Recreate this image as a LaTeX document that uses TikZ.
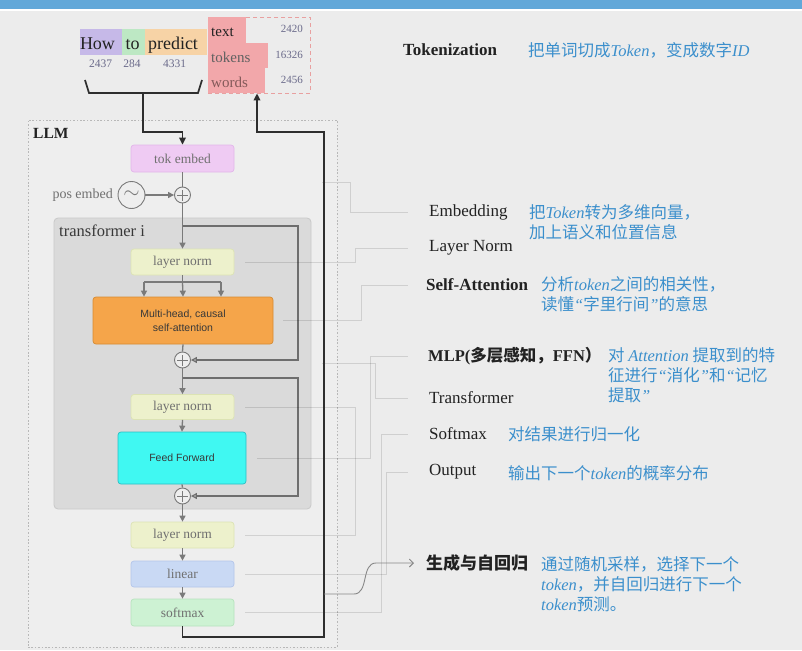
\documentclass[tikz,border=0pt]{standalone}
\usepackage{fontspec}
\usepackage{graphicx}
\setmainfont{Liberation Serif}
\newfontfamily\cjk{Noto Sans CJK SC}
\newfontfamily\sansf{Liberation Sans}
\usetikzlibrary{arrows.meta,calc}
\definecolor{bg}{HTML}{ECECEC}
\definecolor{llmbg}{HTML}{EEEEEE}
\definecolor{topblue}{HTML}{62A8D9}
\definecolor{descblue}{HTML}{3B8FCC}
\definecolor{txtdark}{HTML}{222222}
\definecolor{nodegray}{HTML}{707070}
\definecolor{pgray}{HTML}{7A7A7A}
\definecolor{resgray}{HTML}{6E6E6E}
\definecolor{blackline}{HTML}{2E2E2E}
\definecolor{numc}{HTML}{6A6A8A}
\definecolor{howc}{HTML}{C6B9E8}
\definecolor{toc}{HTML}{BDE8C4}
\definecolor{predc}{HTML}{F7D3A6}
\definecolor{redc}{HTML}{F2A7AA}
\definecolor{reddash}{HTML}{E8A0A0}
\definecolor{tokfill}{HTML}{EFCBF3}
\definecolor{tokdraw}{HTML}{E2B6EA}
\definecolor{lnfill}{HTML}{EDF1CC}
\definecolor{lndraw}{HTML}{DCE3B4}
\definecolor{mhafill}{HTML}{F5A54A}
\definecolor{mhadraw}{HTML}{D68B32}
\definecolor{fffill}{HTML}{40F8F2}
\definecolor{ffdraw}{HTML}{2BBFC4}
\definecolor{linfill}{HTML}{C9D9F4}
\definecolor{lindraw}{HTML}{B3C6EA}
\definecolor{smfill}{HTML}{CDF2D3}
\definecolor{smdraw}{HTML}{B6E2BD}
\definecolor{tboxfill}{HTML}{DADADA}
\definecolor{tboxdraw}{HTML}{C9C9C9}
\newcommand\latit[1]{{\rmfamily\itshape #1}}
\newcommand\myLq{{\rmfamily\itshape “}}
\newcommand\myRq{{\rmfamily\itshape ”}}
\begin{document}
\begin{tikzpicture}[x=1pt,y=-1pt,
  blk/.style={rectangle, rounded corners=3pt, inner sep=0pt, line width=0.7pt,
    font=\fontsize{13.5}{16}\selectfont, text=nodegray},
  sblk/.style={rectangle, rounded corners=3pt, inner sep=0pt, line width=0.7pt,
    font=\sansf\fontsize{10.5}{14}\selectfont, text=txtdark!90, align=center},
  plusc/.style={circle, draw=pgray, fill=llmbg, minimum size=16pt, inner sep=0pt, line width=0.9pt,
    path picture={\draw[pgray,line width=0.9pt]
      ([xshift=-5.5pt]path picture bounding box.center) -- ([xshift=5.5pt]path picture bounding box.center)
      ([yshift=-5.5pt]path picture bounding box.center) -- ([yshift=5.5pt]path picture bounding box.center);}},
  gline/.style={draw=pgray, line width=1.3pt},
  garr/.style={draw=pgray, line width=1.3pt, -{Triangle[length=6pt,width=6pt]}},
  resid/.style={draw=resgray, line width=1.3pt, -{Triangle[open,length=6pt,width=6pt]}},
  bline/.style={draw=blackline, line width=1.7pt},
  blarrow/.style={draw=blackline, line width=1.7pt, -{Triangle[length=7pt,width=6.5pt]}},
  ldr/.style={draw=black, draw opacity=0.12, line width=0.8pt},
  genarrow/.style={draw=pgray!90, line width=0.9pt, -{Straight Barb[length=4pt,width=8pt]}},
  lab/.style={anchor=west, inner sep=0pt, text=txtdark, font=\fontsize{17}{20}\selectfont},
  desc/.style={anchor=west, inner sep=0pt, text=descblue, align=left, font=\cjk\fontsize{16.5}{20}\selectfont},
  wordt/.style={anchor=base, inner sep=0pt, text=txtdark, font=\fontsize{18}{20}\selectfont},
  numt/.style={anchor=base, inner sep=0pt, text=numc, font=\fontsize{11.5}{13}\selectfont},
  rowt/.style={anchor=base west, inner sep=0pt, font=\fontsize{15}{17}\selectfont},
  rnum/.style={anchor=base east, inner sep=0pt, text=numc, font=\fontsize{11}{13}\selectfont}
]
\useasboundingbox (0,0) rectangle (802,650);
\fill[bg] (0,0) rectangle (802,650);
\fill[topblue] (0,0) rectangle (802,9);
\fill[white] (0,9) rectangle (802,11);

% ---------- LLM frame ----------
\node[draw=black!28, fill=llmbg, line width=0.7pt, dash pattern=on 1.6pt off 1.8pt,
  minimum width=309pt, minimum height=527pt, inner sep=0pt] (llm) at (182.5,383.5) {};
\node[anchor=base west, inner sep=0pt, text=txtdark, font=\bfseries\fontsize{15.5}{18}\selectfont] (llmlab) at (33,138) {LLM};

% ---------- transformer box ----------
\node[rectangle, rounded corners=4pt, fill=tboxfill, draw=tboxdraw, line width=0.8pt,
  minimum width=257pt, minimum height=291pt, inner sep=0pt] (tbox) at (182.5,363.5) {};
\node[anchor=base west, inner sep=0pt, text=txtdark!90, font=\fontsize{16.5}{18}\selectfont] (tlab) at (59,236) {transformer i};

% ---------- tokens at top ----------
\node[fill=howc, minimum width=42pt, minimum height=26pt, inner sep=0pt] (howbox) at (101,42) {};
\node[fill=toc, minimum width=23pt, minimum height=26pt, inner sep=0pt] (tobox) at (133.5,42) {};
\node[fill=predc, minimum width=62pt, minimum height=26pt, inner sep=0pt] (predbox) at (176,42) {};
\node[wordt] (howt) at (97.5,50) {How};
\node[wordt] (tot) at (132.5,50) {to};
\node[wordt] (predt) at (173,50) {predict};
\node[numt] (n1) at (100.5,68) {2437};
\node[numt] (n2) at (132,68) {284};
\node[numt] (n3) at (174.5,68) {4331};

\node[draw=reddash, dash pattern=on 4pt off 3pt, line width=0.8pt, minimum width=102pt, minimum height=76pt, inner sep=0pt] (tokbox) at (259,55) {};
\fill[redc] (208,17) rectangle (246,43);
\fill[redc] (208,43) rectangle (268,68);
\fill[redc] (208,68) rectangle (265,93);
\node[rowt, text=txtdark] (wt1) at (211,37) {text};
\node[rowt, text=black!62] (wt2) at (211,63) {tokens};
\node[rowt, text=black!45!red!30!gray] (wt3) at (211,88) {words};
\node[rnum] (r1) at (303,33) {2420};
\node[rnum] (r2) at (303,59) {16326};
\node[rnum] (r3) at (303,84) {2456};

% bracket
\draw[bline] (85,80) -- (89,93) -- (198,93) -- (202,80);
\coordinate (brk) at (143,93);

% ---------- main column ----------
\node[blk, fill=tokfill, draw=tokdraw, minimum width=103pt, minimum height=27pt] (tok) at (182.5,158.5) {tok embed};
\node[circle, draw=pgray, line width=0.9pt, minimum size=27pt, inner sep=0pt, text=pgray] (tilde) at (131.5,195) {\scalebox{2.1}{$\sim$}};
\node[anchor=base east, inner sep=0pt, text=nodegray, font=\fontsize{14}{16}\selectfont] (posl) at (113,198) {pos embed};
\node[plusc] (p1) at (182.5,195) {};
\node[blk, fill=lnfill, draw=lndraw, minimum width=103pt, minimum height=26pt] (ln1) at (182.5,262) {layer norm};
\node[sblk, fill=mhafill, draw=mhadraw, minimum width=180pt, minimum height=47pt] (mha) at (183,320.5) {Multi-head, causal\\self-attention};
\node[plusc] (p2) at (182.5,360) {};
\node[blk, fill=lnfill, draw=lndraw, minimum width=103pt, minimum height=25pt] (ln2) at (182.5,407) {layer norm};
\node[sblk, fill=fffill, draw=ffdraw, minimum width=128pt, minimum height=52pt] (ff) at (182,458) {Feed Forward};
\node[plusc] (p3) at (182.5,496) {};
\node[blk, fill=lnfill, draw=lndraw, minimum width=103pt, minimum height=26pt] (ln3) at (182.5,535) {layer norm};
\node[blk, fill=linfill, draw=lindraw, minimum width=103pt, minimum height=26pt] (lin) at (182.5,574) {linear};
\node[blk, fill=smfill, draw=smdraw, minimum width=103pt, minimum height=27pt] (soft) at (182.5,612.5) {softmax};

% gray flow
\draw[gline] (tok.south) -- (p1.north);
\draw[garr] (tilde.east) -- (p1.west);
\draw[garr] (p1.south) -- (ln1.north);
\coordinate (sp) at (182.5,282);
\coordinate (spl) at (144,282);
\coordinate (spr) at (221,282);
\draw[gline] (ln1.south) -- (sp);
\draw[gline] (spl) -- (spr);
\draw[garr] (spl) -- (spl |- mha.north);
\draw[garr] (sp) -- (mha.north);
\draw[garr] (spr) -- (spr |- mha.north);
\draw[gline] (mha.south) -- (p2.north);
\draw[garr] (p2.south) -- (ln2.north);
\draw[garr] (ln2.south) -- (ff.north);
\draw[gline] (ff.south) -- (p3.north);
\draw[garr] (p3.south) -- (ln3.north);
\draw[garr] (ln3.south) -- (lin.north);
\draw[garr] (lin.south) -- (soft.north);

% residuals
\coordinate (res1) at (182.5,226);
\coordinate (res2) at (182.5,378);
\draw[resid] (res1) -- (298,226) -- (298,360) -- (p2.east);
\draw[resid] (res2) -- (298,378) -- (298,496) -- (p3.east);

% ---------- right labels ----------
\node[lab, font=\bfseries\fontsize{17}{20}\selectfont] (tokz) at (403,50) {Tokenization};
\node[desc] (tokzd) at (528,50) {把单词切成\latit{Token}，变成数字\latit{ID}};
\node[lab] (emb) at (429,212) {Embedding};
\node[desc] (embd) at (529,222) {把\latit{Token}转为多维向量，\\加上语义和位置信息};
\node[lab] (lnl) at (429,248) {Layer Norm};
\node[lab, font=\bfseries\fontsize{17}{20}\selectfont] (sal) at (426,285) {Self-Attention};
\node[desc] (sad) at (541,294) {分析\latit{token}之间的相关性，\\读懂\myLq 字里行间\myRq 的意思};
\node[lab, font=\bfseries\fontsize{16.5}{20}\selectfont] (mlpl) at (428,356) {MLP({\cjk\bfseries 多层感知，}FFN{\cjk\bfseries ）}};
\node[desc] (mlpd) at (608,375) {对 \latit{Attention} 提取到的特\\征进行\myLq 消化\myRq 和\myLq 记忆\\提取\myRq};
\node[lab] (trl) at (429,398) {Transformer};
\node[lab] (sml) at (429,434) {Softmax};
\node[desc] (smd) at (508,434) {对结果进行归一化};
\node[lab] (outl) at (429,472) {Output};
\node[desc] (outd) at (508,473) {输出下一个\latit{token}的概率分布};
\node[lab, font=\cjk\bfseries\fontsize{17}{20}\selectfont] (gen) at (426,563) {生成与自回归};
\node[desc] (gend) at (541,584) {通过随机采样，选择下一个\\\latit{token}，并自回归进行下一个\\\latit{token}预测。};

% ---------- leader lines ----------
\coordinate (embfrom) at (322,182);
\draw[ldr] (embfrom) -- (350,182) -- (350,212) -- ([xshift=-21pt]emb.west);
\draw[ldr] ([xshift=11pt]ln1.east) -| (355,248) -- ([xshift=-21pt]lnl.west);
\draw[ldr] ([xshift=11pt]ln2.east) -- (355,407);
\draw[ldr] ([xshift=11pt]ln3.east) -| (355,407);
\draw[ldr] ([xshift=10pt]mha.east) -| (361,285) -- ([xshift=-18pt]sal.west);
\draw[ldr] ([xshift=11pt]ff.east) -| (370,356) -- ([xshift=-20pt]mlpl.west);
\draw[ldr] ([xshift=11pt]tbox.east) -| (375,398) -- ([xshift=-21pt]trl.west);
\draw[ldr] ([xshift=11pt]soft.east) -| (381,434) -- ([xshift=-21pt]sml.west);
\draw[ldr] ([xshift=11pt]lin.east) -| (386,472) -- ([xshift=-21pt]outl.west);

% ---------- black flow ----------
\draw[blarrow] (brk) -- (143,132) -| (tok.north);
\coordinate (rA) at (324,637);
\coordinate (rB) at (324,132);
\coordinate (rC) at (257,132);
\draw[blarrow] (soft.south) |- (rA) -- (rB) -- (rC) -- (rC |- tokbox.south);
\coordinate (gst) at (324,594);
\draw[genarrow] (gst) -- (354,594) .. controls (369,594) and (361,563) .. (376,563) -- ([xshift=-12pt]gen.west);
\end{tikzpicture}
\end{document}
